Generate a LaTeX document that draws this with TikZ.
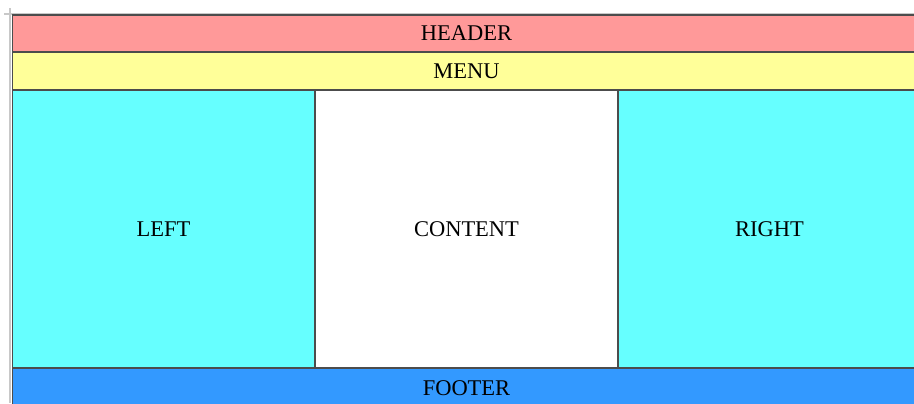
\documentclass[tikz,border=0pt]{standalone}
\usepackage{fontspec}
\setmainfont{Liberation Serif}
\usepackage{tikz}
\usetikzlibrary{positioning}

\definecolor{headerred}{HTML}{FF9999}
\definecolor{menuyellow}{HTML}{FFFF99}
\definecolor{sidecyan}{HTML}{66FFFF}
\definecolor{footerblue}{HTML}{3399FF}
\definecolor{pagemark}{HTML}{C8C8C8}

\begin{document}
\begin{tikzpicture}[
        x=0.02cm, y=-0.02cm,
        band/.style={rectangle, draw=black!70, line width=0.6pt, inner sep=0pt, outer sep=0pt, minimum width=18.18cm, font=\fontsize{12.8}{15}\selectfont},
        column/.style={rectangle, draw=black!70, line width=0.6pt, inner sep=0pt, outer sep=0pt, minimum width=6.06cm, minimum height=5.56cm, font=\fontsize{12.8}{15}\selectfont}
    ]
        \useasboundingbox (0,0) rectangle (914,403);
        \clip (0,0) rectangle (914,403);

        % page corner marks
        \draw[pagemark, line width=1.2pt] (4,14) -- (914,14);
        \draw[pagemark, line width=1.2pt] (10,8) -- (10,403);

        % top bands
        \node[band, fill=headerred, minimum height=0.74cm] (header) at (466.5,33.5) {HEADER};
        \node[band, fill=menuyellow, minimum height=0.76cm] (menu) at (466.5,71) {MENU};

        % columns
        \node[column, fill=sidecyan] (left) at (163.5,229) {LEFT};
        \node[column, fill=white] (content) at (466.5,229) {CONTENT};
        \node[column, fill=sidecyan] (right) at (769.5,229) {RIGHT};

        % bottom band
        \node[band, fill=footerblue, minimum height=0.8cm] (footer) at (466.5,388) {FOOTER};
    \end{tikzpicture}
\end{document}
